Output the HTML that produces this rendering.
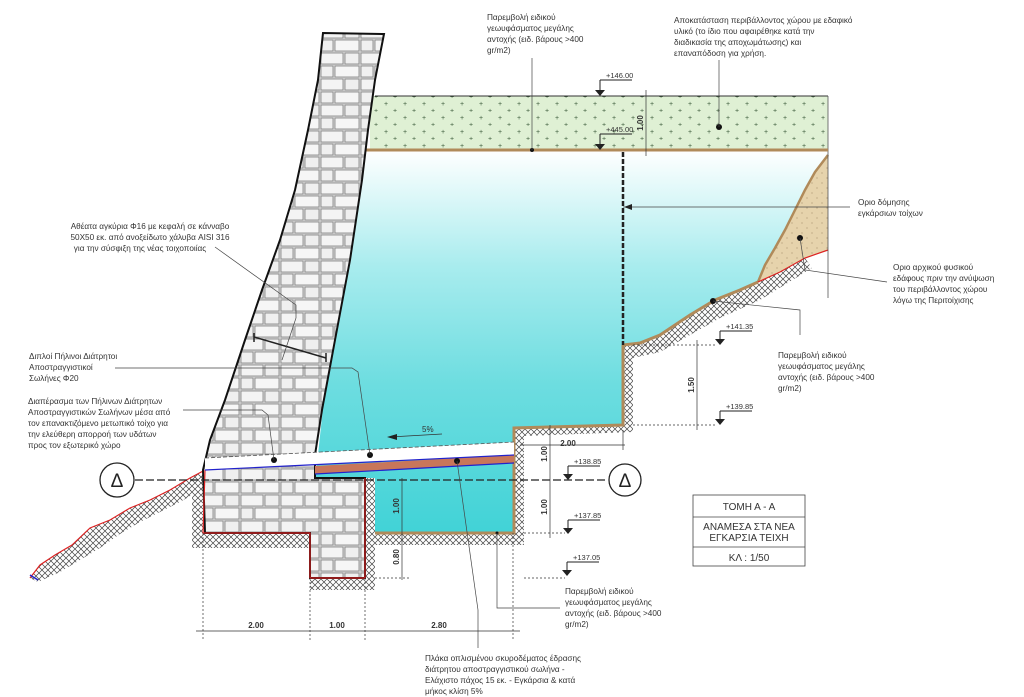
<!DOCTYPE html>
<html><head><meta charset="utf-8">
<style>
html,body{margin:0;padding:0;background:#fff;}
svg{display:block;}
text{font-family:"Liberation Sans",sans-serif;fill:#333;}
</style></head>
<body>
<svg width="1024" height="697" viewBox="0 0 1024 697" xmlns="http://www.w3.org/2000/svg">
<defs>
<linearGradient id="water" x1="0" y1="150" x2="0" y2="540" gradientUnits="userSpaceOnUse">
<stop offset="0" stop-color="#ffffff"/>
<stop offset="0.3" stop-color="#a8ecee"/>
<stop offset="0.6" stop-color="#6ddde0"/>
<stop offset="1" stop-color="#3fd2d6"/>
</linearGradient>
<pattern id="stone" width="40" height="26" patternUnits="userSpaceOnUse">
<rect width="40" height="26" fill="#d6d6d6"/>
<rect x="1" y="1" width="22" height="11" fill="#f4f4f4" stroke="#808080" stroke-width="0.8"/>
<rect x="25" y="1" width="14" height="11" fill="#efefef" stroke="#808080" stroke-width="0.8"/>
<rect x="1" y="14" width="12" height="11" fill="#f0f0f0" stroke="#808080" stroke-width="0.8"/>
<rect x="15" y="14" width="24" height="11" fill="#f6f6f6" stroke="#808080" stroke-width="0.8"/>
</pattern>
<pattern id="hatch" width="6" height="6" patternUnits="userSpaceOnUse">
<rect width="6" height="6" fill="#fff"/>
<path d="M0,6 L6,0 M0,0 L6,6" stroke="#444" stroke-width="0.7"/>
</pattern>
<pattern id="plus" width="19" height="14" patternUnits="userSpaceOnUse">
<rect width="19" height="14" fill="#dff0d4"/>
<text x="4" y="8" font-size="7" style="fill:#3a5a3a">+</text>
<text x="13" y="15" font-size="7" style="fill:#3a5a3a">+</text>
</pattern>
<pattern id="sand" width="10" height="10" patternUnits="userSpaceOnUse">
<rect width="10" height="10" fill="#e6d3ac"/>
<circle cx="2" cy="3" r="0.5" fill="#8a7350"/><circle cx="7" cy="8" r="0.5" fill="#8a7350"/>
</pattern>
</defs>

<rect x="370" y="96" width="458" height="54" fill="url(#plus)"/>
<line x1="375" y1="96" x2="828" y2="96" stroke="#333" stroke-width="1"/>
<line x1="828" y1="96" x2="828" y2="150" stroke="#555" stroke-width="0.8"/>

<path d="M365,150 L828,150 L828,155 L805,190 L790,225 L775,248 L758,282 L740,290 L715,300 L690,315 L660,335 L640,343 L623,345 L623,425 L514,428 L514,533 L365,533 L365,478 L315,478 L318,455 L330,340 L345,260 L360,180 Z" fill="url(#water)"/>

<path d="M623,345 L640,343 L660,335 L690,315 L715,300 L740,290 L758,282 L805,258 L812,268 L760,300 L720,318 L690,335 L660,352 L633,358 L633,432 L524,436 L524,545 L375,545 L375,533 L514,533 L514,428 L623,425 Z" fill="url(#hatch)"/>
<path d="M623,345 L640,343 L660,335 L690,315 L715,300 L740,290 L758,282" fill="none" stroke="#b08a5a" stroke-width="3"/>
<path d="M623,345 L623,425 L514,428 L514,533 L365,533" fill="none" stroke="#b08a5a" stroke-width="3"/>

<path d="M828,155 L815,172 L805,190 L795,210 L785,230 L775,248 L765,265 L758,282 L780,272 L805,258 L828,250 Z" fill="url(#sand)"/>
<path d="M828,155 L815,172 L805,190 L795,210 L785,230 L775,248 L765,265 L758,282" fill="none" stroke="#b08a5a" stroke-width="2.5"/>
<path d="M758,282 L780,272 L805,258 L828,250" fill="none" stroke="#d22" stroke-width="1.2"/>
<line x1="828" y1="150" x2="828" y2="298" stroke="#555" stroke-width="0.8"/>

<line x1="362" y1="150" x2="828" y2="150" stroke="#b08a5a" stroke-width="3"/>

<line x1="623" y1="152" x2="623" y2="345" stroke="#222" stroke-width="2.5" stroke-dasharray="5,2"/>
<line x1="623" y1="207" x2="850" y2="207" stroke="#444" stroke-width="0.8"/>
<path d="M624,207 L632,204 L632,210 Z" fill="#222"/>

<path d="M205,470 L190,478 L170,490 L150,500 L130,508 L110,520 L90,528 L72,545 L55,555 L40,565 L30,578 L38,582 L60,572 L80,560 L100,548 L120,534 L140,522 L160,512 L180,502 L192,495 L192,548 L310,548 L310,590 L375,590 L375,478 L365,478 L365,578 L310,578 L310,533 L205,533 Z" fill="url(#hatch)"/>
<path d="M205,470 L190,478 L170,490 L150,500 L130,508 L110,520 L90,528 L72,545 L55,555 L40,565 L30,578" fill="none" stroke="#d22" stroke-width="1.2"/>
<line x1="30" y1="575" x2="38" y2="580" stroke="#22c" stroke-width="1.5"/>

<path d="M323,33 L384,34 L375,80 L368,130 L362,180 L350,260 L335,340 L322,410 L315,455 L315,478 L365,478 L365,578 L310,578 L310,533 L205,533 L203,470 L210,440 L225,400 L245,340 L262,290 L280,240 L295,190 L308,130 L318,80 Z" fill="url(#stone)" stroke="#111" stroke-width="2"/>
<path d="M205,470 L203,533 L310,533 L310,578 L365,578 L365,478" fill="none" stroke="#d22" stroke-width="1.2"/>

<line x1="254" y1="337" x2="326" y2="358" stroke="#222" stroke-width="1.5"/>
<line x1="254" y1="333" x2="254" y2="342" stroke="#222" stroke-width="1.5"/>
<line x1="326" y1="353" x2="326" y2="362" stroke="#222" stroke-width="1.5"/>

<path d="M205,458 L514,442 L514,455 L205,470 Z" fill="#fff"/>
<line x1="205" y1="458" x2="514" y2="442" stroke="#555" stroke-width="0.8" stroke-dasharray="4,2"/>
<path d="M315,466 L514,455 L514,463 L315,474 Z" fill="#c8765a"/>
<line x1="205" y1="470" x2="514" y2="455" stroke="#22c" stroke-width="1.2"/>
<line x1="315" y1="474" x2="514" y2="463" stroke="#22c" stroke-width="1.2"/>

<line x1="390" y1="437" x2="442" y2="434" stroke="#333" stroke-width="0.8"/>
<path d="M387,437 L397,434 L397,440 Z" fill="#222"/>
<text x="422" y="432" font-size="8">5%</text>

<line x1="135" y1="480" x2="608" y2="480" stroke="#222" stroke-width="1.2" stroke-dasharray="8,3"/>
<circle cx="117" cy="480" r="17" fill="#fff" stroke="#222" stroke-width="1.3"/>
<text x="117" y="487" font-size="19" text-anchor="middle" style="fill:#222">Δ</text>
<circle cx="625" cy="480" r="16" fill="#fff" stroke="#222" stroke-width="1.3"/>
<text x="625" y="487" font-size="19" text-anchor="middle" style="fill:#222">Δ</text>

<g fill="#111">
<circle cx="532" cy="150" r="2"/><circle cx="719" cy="127" r="3"/>
<circle cx="800" cy="238" r="3"/><circle cx="713" cy="301" r="3"/>
<circle cx="370" cy="455" r="3"/><circle cx="274" cy="460" r="3"/>
<circle cx="457" cy="461" r="3"/><circle cx="497" cy="533" r="1.5"/>
</g>
<g fill="none" stroke="#444" stroke-width="0.7">
<line x1="532" y1="58" x2="532" y2="150"/>
<line x1="719" y1="60" x2="719" y2="127"/>
<path d="M800,238 L805,270 L887,282"/>
<path d="M713,301 L800,310 L800,335"/>
<path d="M115,368 L352,368 L358,372 L370,455"/>
<path d="M183,410 L262,410 L268,415 L274,460"/>
<path d="M457,461 L478,610 L478,648"/>
<path d="M497,533 L497,608 L560,608"/>
<path d="M215,247 L296,305 L296,318 L282,360"/>
</g>

<g stroke="#333" stroke-width="0.7" fill="none">
<line x1="196" y1="631" x2="520" y2="631"/>
<line x1="203" y1="533" x2="203" y2="640" stroke-dasharray="2,2"/>
<line x1="310" y1="578" x2="310" y2="640" stroke-dasharray="2,2"/>
<line x1="365" y1="578" x2="365" y2="640" stroke-dasharray="2,2"/>
<line x1="513" y1="533" x2="513" y2="640" stroke-dasharray="2,2"/>
<line x1="402" y1="478" x2="402" y2="580"/>
<line x1="375" y1="578" x2="410" y2="578" stroke-dasharray="2,2"/>
<line x1="550" y1="425" x2="550" y2="538"/>
<line x1="520" y1="445" x2="625" y2="445"/>
<line x1="623" y1="430" x2="623" y2="450"/>
<line x1="524" y1="533" x2="565" y2="533" stroke-dasharray="2,2"/>
<line x1="524" y1="578" x2="565" y2="578" stroke-dasharray="2,2"/>
<line x1="697" y1="340" x2="697" y2="430"/>
<line x1="633" y1="345" x2="715" y2="345" stroke-dasharray="2,2"/>
<line x1="633" y1="425" x2="715" y2="425" stroke-dasharray="2,2"/>
<line x1="646" y1="90" x2="646" y2="156"/>
</g>
<g font-size="8" font-weight="bold" style="fill:#333">
<text x="256" y="628" text-anchor="middle">2.00</text>
<text x="337" y="628" text-anchor="middle">1.00</text>
<text x="439" y="628" text-anchor="middle">2.80</text>
<text x="568" y="446" text-anchor="middle">2.00</text>
<text transform="translate(399,506) rotate(-90)" text-anchor="middle">1.00</text>
<text transform="translate(399,557) rotate(-90)" text-anchor="middle">0.80</text>
<text transform="translate(547,454) rotate(-90)" text-anchor="middle">1.00</text>
<text transform="translate(547,507) rotate(-90)" text-anchor="middle">1.00</text>
<text transform="translate(694,385) rotate(-90)" text-anchor="middle">1.50</text>
<text transform="translate(643,123) rotate(-90)" text-anchor="middle">1.00</text>
</g>

<g font-size="7.5">
<g transform="translate(600,80)"><path d="M0,0 L0,10 M0,0 L32,0" stroke="#222" fill="none"/><path d="M-5,10 L5,10 L0,16 Z" fill="#222"/><text x="6" y="-2">+146.00</text></g>
<g transform="translate(600,134)"><path d="M0,0 L0,10 M0,0 L32,0" stroke="#222" fill="none"/><path d="M-5,10 L5,10 L0,16 Z" fill="#222"/><text x="6" y="-2">+445.00</text></g>
<g transform="translate(720,331)"><path d="M0,0 L0,8 M0,0 L32,0" stroke="#222" fill="none"/><path d="M-5,8 L5,8 L0,14 Z" fill="#222"/><text x="6" y="-2">+141.35</text></g>
<g transform="translate(720,411)"><path d="M0,0 L0,8 M0,0 L32,0" stroke="#222" fill="none"/><path d="M-5,8 L5,8 L0,14 Z" fill="#222"/><text x="6" y="-2">+139.85</text></g>
<g transform="translate(568,466)"><path d="M0,0 L0,8 M0,0 L32,0" stroke="#222" fill="none"/><path d="M-5,8 L5,8 L0,14 Z" fill="#222"/><text x="6" y="-2">+138.85</text></g>
<g transform="translate(568,520)"><path d="M0,0 L0,8 M0,0 L32,0" stroke="#222" fill="none"/><path d="M-5,8 L5,8 L0,14 Z" fill="#222"/><text x="6" y="-2">+137.85</text></g>
<g transform="translate(567,562)"><path d="M0,0 L0,8 M0,0 L32,0" stroke="#222" fill="none"/><path d="M-5,8 L5,8 L0,14 Z" fill="#222"/><text x="6" y="-2">+137.05</text></g>
</g>

<g stroke="#444" stroke-width="0.8" fill="none">
<rect x="693" y="495" width="112" height="71"/>
<line x1="693" y1="517" x2="805" y2="517"/>
<line x1="693" y1="547" x2="805" y2="547"/>
</g>
<g font-size="10" text-anchor="middle" style="fill:#222">
<text x="749" y="510">ΤΟΜΗ Α - Α</text>
<text x="749" y="530">ΑΝΑΜΕΣΑ ΣΤΑ ΝΕΑ</text>
<text x="749" y="541">ΕΓΚΑΡΣΙΑ ΤΕΙΧΗ</text>
<text x="749" y="561">ΚΛ : 1/50</text>
</g>

<g font-size="8.2">
<text x="487" y="20">Παρεμβολή ειδικού</text>
<text x="487" y="31">γεωυφάσματος μεγάλης</text>
<text x="487" y="42">αντοχής (ειδ. βάρους &gt;400</text>
<text x="487" y="53">gr/m2)</text>
<text x="674" y="23">Αποκατάσταση περιβάλλοντος χώρου με εδαφικό</text>
<text x="674" y="34">υλικό (το ίδιο που αφαιρέθηκε κατά την</text>
<text x="674" y="45">διαδικασία της αποχωμάτωσης)  και</text>
<text x="674" y="56">επαναπόδοση για χρήση.</text>
<text x="858" y="205">Οριο δόμησης</text>
<text x="858" y="216">εγκάρσιων τοίχων</text>
<text x="893" y="270">Οριο αρχικού φυσικού</text>
<text x="893" y="281">εδάφους πριν την ανύψωση</text>
<text x="893" y="292">του περιβάλλοντος χώρου</text>
<text x="893" y="303">λόγω της Περιτοίχισης</text>
<text x="778" y="358">Παρεμβολή ειδικού</text>
<text x="778" y="369">γεωυφάσματος μεγάλης</text>
<text x="778" y="380">αντοχής (ειδ. βάρους &gt;400</text>
<text x="778" y="391">gr/m2)</text>
<text x="150" y="229" text-anchor="middle">Αθέατα αγκύρια Φ16 με κεφαλή σε κάνναβο</text>
<text x="150" y="240" text-anchor="middle">50X50 εκ. από ανοξείδωτο χάλυβα AISI 316</text>
<text x="140" y="251" text-anchor="middle">για την σύσφιξη της νέας τοιχοποιίας</text>
<text x="29" y="359">Διπλοί Πήλινοι Διάτρητοι</text>
<text x="29" y="370">Αποστραγγιστικοί</text>
<text x="29" y="381">Σωλήνες Φ20</text>
<text x="28" y="404">Διαπέρασμα των Πήλινων Διάτρητων</text>
<text x="28" y="415">Αποστραγγιστικών Σωλήνων μέσα από</text>
<text x="28" y="426">τον επανακτιζόμενο μετωπικό τοίχο για</text>
<text x="28" y="437">την ελεύθερη απορροή των υδάτων</text>
<text x="28" y="448">προς τον εξωτερικό χώρο</text>
<text x="565" y="594">Παρεμβολή ειδικού</text>
<text x="565" y="605">γεωυφάσματος μεγάλης</text>
<text x="565" y="616">αντοχής (ειδ. βάρους &gt;400</text>
<text x="565" y="627">gr/m2)</text>
<text x="425" y="661">Πλάκα οπλισμένου σκυροδέματος έδρασης</text>
<text x="425" y="672">διάτρητου αποστραγγιστικού σωλήνα -</text>
<text x="425" y="683">Ελάχιστο πάχος 15 εκ. - Εγκάρσια &amp; κατά</text>
<text x="425" y="694">μήκος κλίση 5%</text>
</g>
</svg>
</body></html>
